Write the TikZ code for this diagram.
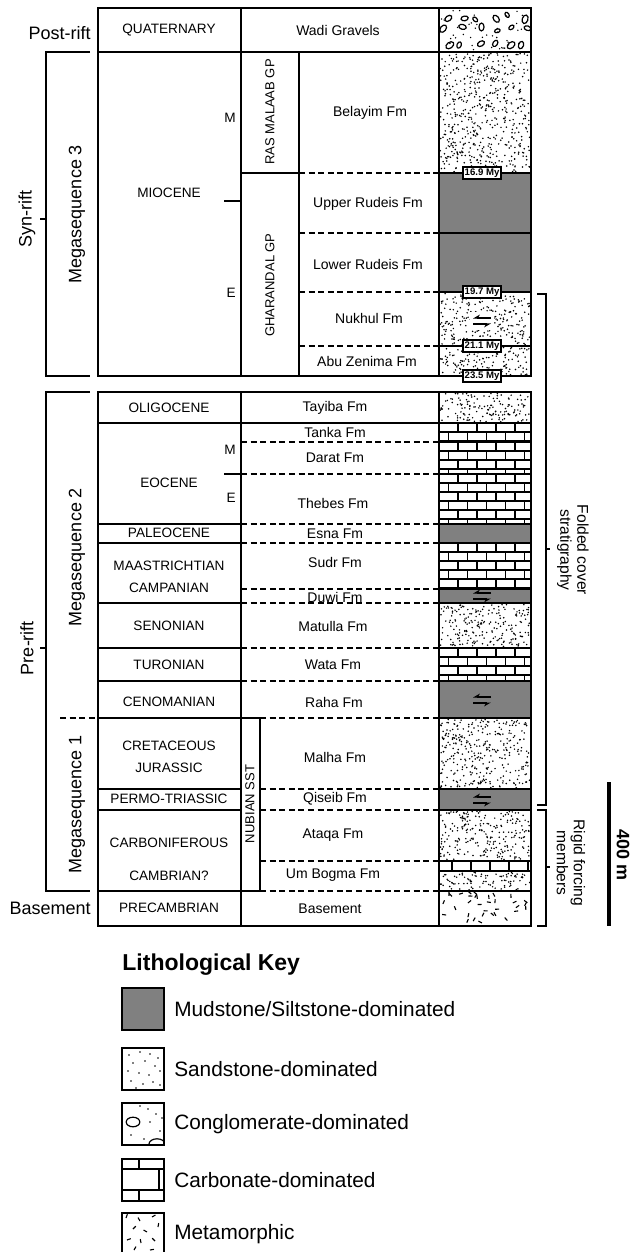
\documentclass[tikz,border=0pt]{standalone}
\usepackage{fontspec}
\setmainfont{Liberation Sans}
\usepackage{tikz}
\usetikzlibrary{arrows.meta, positioning}
\definecolor{mudgray}{RGB}{128, 128, 128}

% random dots: x1 y1 x2 y2 count
\newcommand{\sandfill}[5]{%
  \foreach \k in {1,...,#5}{%
    \pgfmathsetmacro{\px}{#1+1.2+rnd*(#3-#1-2.4)}%
    \pgfmathsetmacro{\py}{#2+1.2+rnd*(#4-#2-2.4)}%
    \fill (\px,\py) circle (0.42pt);
  }}
% brick rows: x1 y1 x2 y2
\newcommand{\carbfill}[4]{%
  \begin{scope}
    \clip (#1,#2) rectangle (#3,#4);
    \pgfmathtruncatemacro{\nrow}{ceil((#4-#2)/9)}%
    \foreach \j in {0,...,\nrow}{%
      \pgfmathsetmacro{\yy}{#2+\j*9}%
      \pgfmathsetmacro{\off}{mod(\j,2)*9.5}%
      \draw[line width=0.55pt] (#1,\yy) -- (#3,\yy);
      \foreach \i in {0,...,5}{%
        \draw[line width=0.55pt] (#1+\off+\i*19,\yy) -- ++(0,9);
      }
    }
  \end{scope}}
% strike-slip half arrows
\newcommand{\faultsym}[2]{%
  \draw[faultarr] (#1+9,#2-3) -- (#1-9,#2-3);
  \draw[faultarr] (#1-9,#2+3) -- (#1+9,#2+3);}

\begin{document}
\begin{tikzpicture}[x=0.5pt, y=-0.5pt,
    frame/.style={line width=1pt},
    dashline/.style={line width=1pt, dash pattern=on 3pt off 1.8pt},
    bracket/.style={line width=0.8pt},
    thinbracket/.style={line width=0.6pt},
    agelbl/.style={inner sep=0pt, align=center, font=\fontsize{6.8}{11}\selectfont},
    fmlbl/.style={inner sep=0pt, font=\fontsize{7}{8}\selectfont},
    sidelbl/.style={inner sep=0pt, font=\fontsize{9}{10}\selectfont},
    grplbl/.style={inner sep=0pt, rotate=90, font=\fontsize{6.5}{7.5}\selectfont},
    mybox/.style={draw, line width=0.6pt, fill=white, inner sep=0.8pt,
                  font=\bfseries\fontsize{4.8}{5}\selectfont},
    faultarr/.style={line width=0.7pt, -{Stealth[right, length=3pt, width=3.4pt]}},
    keybox/.style={draw, line width=0.9pt, minimum width=21pt, minimum height=21pt, inner sep=0pt},
    keylbl/.style={inner sep=0pt, anchor=west, font=\fontsize{10.4}{12}\selectfont},
]
\useasboundingbox (0,0) rectangle (630,1252);
\pgfmathsetseed{7}

% lithology column
\fill[mudgray] (439,173) rectangle (531,292);
\fill[mudgray] (439,524) rectangle (531,543);
\fill[mudgray] (439,589) rectangle (531,603);
\fill[mudgray] (439,681) rectangle (531,718);
\fill[mudgray] (439,789) rectangle (531,810);

\sandfill{439}{52}{531}{173}{560}
\sandfill{439}{292}{531}{346}{250}
\sandfill{439}{346}{531}{376}{140}
\sandfill{439}{392}{531}{423}{145}
\sandfill{439}{603}{531}{648}{210}
\sandfill{439}{718}{531}{789}{330}
\sandfill{439}{810}{531}{861}{235}
\sandfill{439}{871}{531}{891}{90}

\carbfill{439}{423}{531}{442}
\carbfill{439}{442}{531}{474}
\carbfill{439}{474}{531}{524}
\carbfill{439}{543}{531}{589}
\carbfill{439}{648}{531}{681}
\foreach \i in {0,...,4} \draw[line width=0.55pt] (452+\i*19,861) -- (452+\i*19,871);

% gravels
\begin{scope}
  \clip (439,8) rectangle (531,52);
  \foreach \i in {0,...,5}{%
    \foreach \j in {0,...,2}{%
      \pgfmathsetmacro{\px}{447+\i*15.5+rand*4}
      \pgfmathsetmacro{\py}{17+\j*13+rand*3.5}
      \pgfmathsetmacro{\an}{rnd*180}
      \pgfmathsetmacro{\rx}{1.4+rnd*0.9}
      \draw[line width=0.6pt, rotate around={\an:(\px,\py)}] (\px,\py) ellipse (\rx pt and 0.65*\rx pt);
    }
  }
  \foreach \k in {1,...,40}{%
    \pgfmathsetmacro{\px}{441+rnd*88}
    \pgfmathsetmacro{\py}{10+rnd*40}
    \fill (\px,\py) circle (0.4pt);
  }
\end{scope}

% basement
\begin{scope}
  \clip (439,891) rectangle (531,926);
  \foreach \k in {1,...,34}{%
    \pgfmathsetmacro{\px}{442+rnd*86}
    \pgfmathsetmacro{\py}{894+rnd*29}
    \pgfmathsetmacro{\an}{rnd*180}
    \draw[line width=0.55pt] (\px,\py) -- ++(\an:2pt);
  }
\end{scope}

% upper table
\draw[frame] (98,8) rectangle (531,376);
\draw[frame] (241,8) -- (241,376);
\draw[frame] (439,8) -- (439,376);
\draw[frame] (98,52) -- (531,52);
\draw[frame] (299,52) -- (299,376);
\draw[frame] (241,173) -- (299,173);
\draw[frame] (224,201) -- (241,201);
\foreach \yy in {173,233,292,346} \draw[dashline] (299,\yy) -- (439,\yy);
\foreach \yy in {173,233,292,346} \draw[frame] (439,\yy) -- (531,\yy);

% lower table
\draw[frame] (98,392) rectangle (531,926);
\draw[frame] (241,392) -- (241,926);
\draw[frame] (439,392) -- (439,926);
\draw[frame] (98,423) -- (531,423);
\foreach \yy in {524,543,603,648,681,718,789,810,891} \draw[frame] (98,\yy) -- (241,\yy);
\draw[frame] (224,474) -- (241,474);
\foreach \yy in {442,474,524,543,589,603,648,681} \draw[dashline] (241,\yy) -- (439,\yy);
\foreach \yy in {718,789,810,861,891} \draw[dashline] (260,\yy) -- (439,\yy);
\draw[frame] (241,718) -- (260,718) -- (260,891) -- (241,891);
\foreach \yy in {442,474,524,543,589,603,648,681,718,789,810,861,871,891} \draw[frame] (439,\yy) -- (531,\yy);
\draw[dashline] (60,718) -- (98,718);

% fault symbols and ages
\fill[white] (470,312) rectangle (494,330);
\faultsym{482}{321}
\faultsym{482}{596}
\faultsym{482}{700}
\faultsym{482}{800}
\node[mybox] (age169) at (482,173) {16.9 My};
\node[mybox] (age197) at (482,292) {19.7 My};
\node[mybox] (age211) at (482,346) {21.1 My};
\node[mybox] (age235) at (482,376) {23.5 My};

% left brackets
\draw[bracket] (90,52) -- (46,52) -- (46,376) -- (90,376);
\draw[bracket] (46,219) -- (40,219);
\draw[bracket] (90,392) -- (46,392) -- (46,891) -- (90,891);
\draw[bracket] (46,648) -- (40,648);
\node[sidelbl, anchor=east] (postrift) at (91,33) {Post-rift};
\node[sidelbl, rotate=90] (synrift) at (27,219) {Syn-rift};
\node[sidelbl, rotate=90] (mega3) at (77,214) {Megasequence 3};
\node[sidelbl, rotate=90] (prerift) at (27,648) {Pre-rift};
\node[sidelbl, rotate=90] (mega2) at (77,557) {Megasequence 2};
\node[sidelbl, rotate=90] (mega1) at (77,804) {Megasequence 1};
\node[sidelbl, anchor=east] (basement) at (91,908) {Basement};

% right brackets
\draw[thinbracket] (537,294) -- (546,294) -- (546,805) -- (537,805);
\draw[thinbracket] (546,549) -- (550,549);
\draw[thinbracket] (537,810) -- (546,810) -- (546,926) -- (537,926);
\draw[thinbracket] (546,867) -- (550,867);
\node[rotate=-90, align=center, inner sep=0pt, font=\fontsize{7.8}{8.5}\selectfont] (folded) at (573,550) {Folded cover\\stratigraphy};
\node[rotate=-90, align=center, inner sep=0pt, font=\fontsize{7.8}{8.5}\selectfont] (rigid) at (571,863) {Rigid forcing\\members};
\draw[line width=2pt] (609,782) -- (609,926);
\node[rotate=-90, inner sep=0pt, font=\bfseries\fontsize{9}{10}\selectfont] (scale) at (623,855) {400 m};

% ages
\node[agelbl] (quat) at (169,30) {QUATERNARY};
\node[agelbl] (mioc) at (169,193) {MIOCENE};
\node[agelbl, anchor=east] (miom) at (236,118) {M};
\node[agelbl, anchor=east] (mioe) at (236,293) {E};
\node[agelbl] (olig) at (169,408) {OLIGOCENE};
\node[agelbl] (eoc) at (169,483) {EOCENE};
\node[agelbl, anchor=east] (eocm) at (236,450) {M};
\node[agelbl, anchor=east] (eoce) at (236,498) {E};
\node[agelbl] (paleo) at (169,533) {PALEOCENE};
\node[agelbl] (maas) at (169,566) {MAASTRICHTIAN};
\node[agelbl] (camp) at (169,588) {CAMPANIAN};
\node[agelbl] (seno) at (169,626) {SENONIAN};
\node[agelbl] (turo) at (169,665) {TURONIAN};
\node[agelbl] (ceno) at (169,702) {CENOMANIAN};
\node[agelbl] (cret) at (169,757) {CRETACEOUS\\JURASSIC};
\node[agelbl] (perm) at (169,799) {PERMO-TRIASSIC};
\node[agelbl] (carb) at (169,843) {CARBONIFEROUS};
\node[agelbl] (camb) at (169,876) {CAMBRIAN?};
\node[agelbl] (precamb) at (169,908) {PRECAMBRIAN};

% groups
\node[grplbl] (rasmalaab) at (270,112) {RAS MALAAB GP};
\node[grplbl] (gharandal) at (270,285) {GHARANDAL GP};
\node[grplbl] (nubian) at (250,804) {NUBIAN SST};

% formations
\node[fmlbl] (wadi) at (338,30) {Wadi Gravels};
\node[fmlbl] (belayim) at (370,113) {Belayim Fm};
\node[fmlbl] (urudeis) at (368,204) {Upper Rudeis Fm};
\node[fmlbl] (lrudeis) at (368,264) {Lower Rudeis Fm};
\node[fmlbl] (nukhul) at (369,318) {Nukhul Fm};
\node[fmlbl] (abuzen) at (367,361) {Abu Zenima Fm};
\node[fmlbl] (tayiba) at (335,408) {Tayiba Fm};
\node[fmlbl] (tanka) at (335,432) {Tanka Fm};
\node[fmlbl] (darat) at (335,458) {Darat Fm};
\node[fmlbl] (thebes) at (333,503) {Thebes Fm};
\node[fmlbl] (esna) at (335,534) {Esna Fm};
\node[fmlbl] (sudr) at (335,562) {Sudr Fm};
\node[fmlbl] (duwi) at (335,597) {Duwi Fm};
\node[fmlbl] (matulla) at (333,626) {Matulla Fm};
\node[fmlbl] (wata) at (333,665) {Wata Fm};
\node[fmlbl] (raha) at (334,702) {Raha Fm};
\node[fmlbl] (malha) at (335,757) {Malha Fm};
\node[fmlbl] (qiseib) at (335,799) {Qiseib Fm};
\node[fmlbl] (ataqa) at (333,835) {Ataqa Fm};
\node[fmlbl] (umbogma) at (333,875) {Um Bogma Fm};
\node[fmlbl] (basefm) at (330,909) {Basement};

% key
\node[anchor=west, inner sep=0pt, font=\bfseries\fontsize{11.5}{13}\selectfont] (keytitle) at (122,965) {Lithological Key};
\node[keybox, fill=mudgray] (kmud) at (143,1009) {};
\node[keybox] (ksand) at (143,1069) {};
\node[keybox] (kcong) at (143,1124) {};
\node[keybox] (kcarb) at (143,1180) {};
\node[keybox] (kmeta) at (143,1234) {};
\node[keylbl, right=4.5pt of kmud] (lmud) {Mudstone/Siltstone-dominated};
\node[keylbl, right=4.5pt of ksand] (lsand) {Sandstone-dominated};
\node[keylbl, right=4.5pt of kcong] (lcong) {Conglomerate-dominated};
\node[keylbl, right=4.5pt of kcarb] (lcarb) {Carbonate-dominated};
\node[keylbl, right=4.5pt of kmeta] (lmeta) {Metamorphic};

\foreach \px/\py in {129/1055,140/1052,150/1054,158/1058,133/1063,145/1061,
                     155/1066,128/1071,139/1073,149/1075,160/1071,131/1081,
                     143/1084,153/1082,160/1085,136/1088}
  \fill (\px,\py) circle (0.4pt);
\draw[line width=0.6pt] (133,1122) ellipse (3.4pt and 2.4pt);
\begin{scope}
  \clip (kcong.south west) rectangle (kcong.north east);
  \draw[line width=0.6pt] (157,1144) ellipse (4pt and 2.6pt);
\end{scope}
\foreach \px/\py in {140/1106,148/1109,156/1114,150/1122,162/1118,131/1135,
                     144/1139,160/1131}
  \fill (\px,\py) circle (0.4pt);
\draw[line width=0.7pt] (122,1169) -- (164,1169);
\draw[line width=0.7pt] (122,1190) -- (164,1190);
\draw[line width=0.7pt] (139,1159) -- (139,1169);
\draw[line width=0.7pt] (159,1169) -- (159,1190);
\draw[line width=0.7pt] (139,1190) -- (139,1201);
\foreach \px/\py/\an in {126/1218/70,140/1221/120,152/1217/30,133/1229/45,
                         147/1232/150,158/1227/80,127/1240/20,141/1243/100,
                         155/1241/135,134/1250/60,150/1250/10}
  \draw[line width=0.55pt] (\px,\py) -- ++(\an:2pt);
\end{tikzpicture}
\end{document}
